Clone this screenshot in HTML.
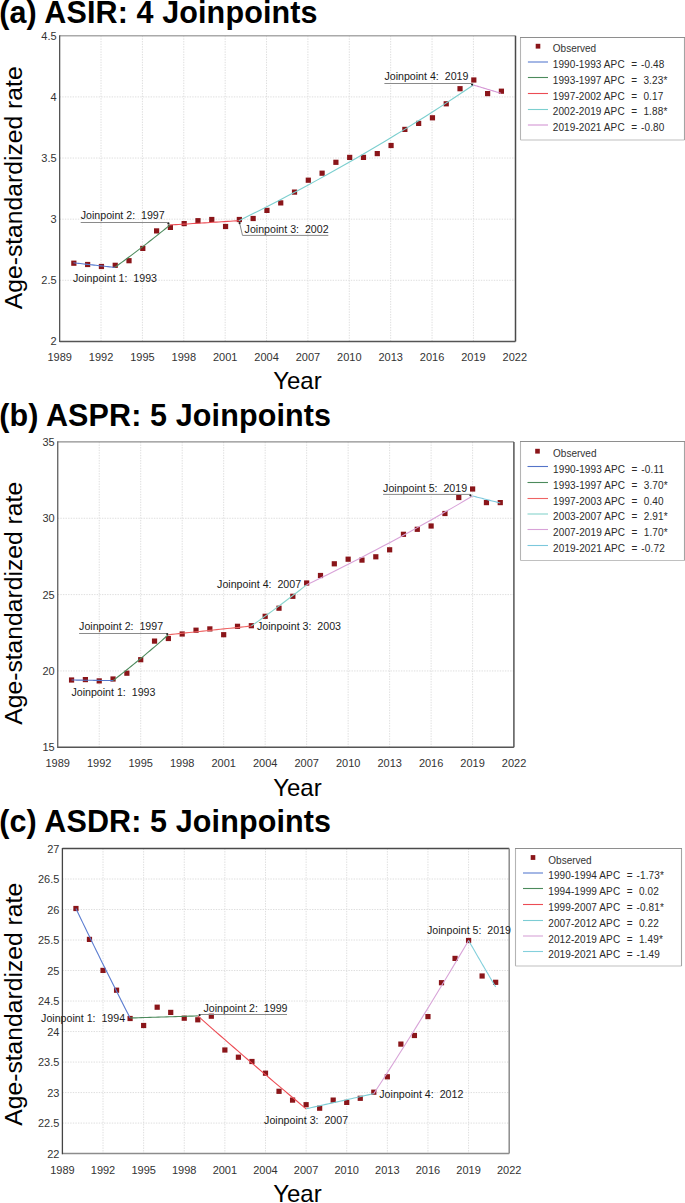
<!DOCTYPE html>
<html><head><meta charset="utf-8"><style>
html,body{margin:0;padding:0;background:#fff;width:685px;height:1203px;overflow:hidden}
svg{display:block}
text{font-family:"Liberation Sans", sans-serif}
</style></head><body>
<svg width="685" height="1203" viewBox="0 0 685 1203">
<rect width="685" height="1203" fill="#fff"/>

<text x="-0.8" y="22.9" font-size="30.5" font-weight="bold" fill="#000" letter-spacing="0.12">(a) ASIR: 4 Joinpoints</text>
<path d="M101.03 35.80V341.40 M142.40 35.80V341.40 M183.78 35.80V341.40 M225.16 35.80V341.40 M266.54 35.80V341.40 M307.91 35.80V341.40 M349.29 35.80V341.40 M390.67 35.80V341.40 M432.05 35.80V341.40 M473.42 35.80V341.40 M59.65 280.28H515.50 M59.65 219.16H515.50 M59.65 158.04H515.50 M59.65 96.92H515.50" stroke="#dedede" stroke-width="1" stroke-dasharray="1.4 1.2" fill="none"/>
<path d="M59.65 35.80H515.50" stroke="#aaaaaa" stroke-width="1.4" fill="none"/>
<path d="M515.50 35.80V341.40" stroke="#4a4a4a" stroke-width="1.5" fill="none"/>
<path d="M59.65 341.40H515.50" stroke="#555555" stroke-width="1.5" fill="none"/>
<path d="M59.65 35.20V342.10" stroke="#555555" stroke-width="1.3" fill="none"/>
<text x="56.65" y="345.40" font-size="11" fill="#333" text-anchor="end">2</text>
<text x="56.65" y="284.28" font-size="11" fill="#333" text-anchor="end">2.5</text>
<text x="56.65" y="223.16" font-size="11" fill="#333" text-anchor="end">3</text>
<text x="56.65" y="162.04" font-size="11" fill="#333" text-anchor="end">3.5</text>
<text x="56.65" y="100.92" font-size="11" fill="#333" text-anchor="end">4</text>
<text x="56.65" y="39.80" font-size="11" fill="#333" text-anchor="end">4.5</text>
<text x="59.65" y="361.40" font-size="11" fill="#333" text-anchor="middle">1989</text>
<text x="101.03" y="361.40" font-size="11" fill="#333" text-anchor="middle">1992</text>
<text x="142.40" y="361.40" font-size="11" fill="#333" text-anchor="middle">1995</text>
<text x="183.78" y="361.40" font-size="11" fill="#333" text-anchor="middle">1998</text>
<text x="225.16" y="361.40" font-size="11" fill="#333" text-anchor="middle">2001</text>
<text x="266.54" y="361.40" font-size="11" fill="#333" text-anchor="middle">2004</text>
<text x="307.91" y="361.40" font-size="11" fill="#333" text-anchor="middle">2007</text>
<text x="349.29" y="361.40" font-size="11" fill="#333" text-anchor="middle">2010</text>
<text x="390.67" y="361.40" font-size="11" fill="#333" text-anchor="middle">2013</text>
<text x="432.05" y="361.40" font-size="11" fill="#333" text-anchor="middle">2016</text>
<text x="473.42" y="361.40" font-size="11" fill="#333" text-anchor="middle">2019</text>
<text x="514.80" y="361.40" font-size="11" fill="#333" text-anchor="middle">2022</text>
<text x="297.4" y="389" font-size="24" fill="#000" text-anchor="middle">Year</text>
<text transform="translate(21.8 187.8) rotate(-90)" x="0" y="0" font-size="24.7" fill="#000" text-anchor="middle">Age-standardized rate</text>
<rect x="71.24" y="260.60" width="5.2" height="5.2" fill="#8a1519"/>
<rect x="85.03" y="261.90" width="5.2" height="5.2" fill="#8a1519"/>
<rect x="98.83" y="263.90" width="5.2" height="5.2" fill="#8a1519"/>
<rect x="112.62" y="262.70" width="5.2" height="5.2" fill="#8a1519"/>
<rect x="126.41" y="258.10" width="5.2" height="5.2" fill="#8a1519"/>
<rect x="140.20" y="245.80" width="5.2" height="5.2" fill="#8a1519"/>
<rect x="154.00" y="228.30" width="5.2" height="5.2" fill="#8a1519"/>
<rect x="167.79" y="224.80" width="5.2" height="5.2" fill="#8a1519"/>
<rect x="181.58" y="221.00" width="5.2" height="5.2" fill="#8a1519"/>
<rect x="195.37" y="218.10" width="5.2" height="5.2" fill="#8a1519"/>
<rect x="209.17" y="216.90" width="5.2" height="5.2" fill="#8a1519"/>
<rect x="222.96" y="223.90" width="5.2" height="5.2" fill="#8a1519"/>
<rect x="236.75" y="216.90" width="5.2" height="5.2" fill="#8a1519"/>
<rect x="250.54" y="215.90" width="5.2" height="5.2" fill="#8a1519"/>
<rect x="264.34" y="207.80" width="5.2" height="5.2" fill="#8a1519"/>
<rect x="278.13" y="200.30" width="5.2" height="5.2" fill="#8a1519"/>
<rect x="291.92" y="189.50" width="5.2" height="5.2" fill="#8a1519"/>
<rect x="305.71" y="177.60" width="5.2" height="5.2" fill="#8a1519"/>
<rect x="319.51" y="170.60" width="5.2" height="5.2" fill="#8a1519"/>
<rect x="333.30" y="159.70" width="5.2" height="5.2" fill="#8a1519"/>
<rect x="347.09" y="154.80" width="5.2" height="5.2" fill="#8a1519"/>
<rect x="360.88" y="154.80" width="5.2" height="5.2" fill="#8a1519"/>
<rect x="374.68" y="151.00" width="5.2" height="5.2" fill="#8a1519"/>
<rect x="388.47" y="142.90" width="5.2" height="5.2" fill="#8a1519"/>
<rect x="402.26" y="126.80" width="5.2" height="5.2" fill="#8a1519"/>
<rect x="416.05" y="120.80" width="5.2" height="5.2" fill="#8a1519"/>
<rect x="429.85" y="115.20" width="5.2" height="5.2" fill="#8a1519"/>
<rect x="443.64" y="101.20" width="5.2" height="5.2" fill="#8a1519"/>
<rect x="457.43" y="86.10" width="5.2" height="5.2" fill="#8a1519"/>
<rect x="471.22" y="77.40" width="5.2" height="5.2" fill="#8a1519"/>
<rect x="485.02" y="91.00" width="5.2" height="5.2" fill="#8a1519"/>
<rect x="498.81" y="88.60" width="5.2" height="5.2" fill="#8a1519"/>
<path d="M73.44 262.80 L75.17 262.99 L76.89 263.19 L78.61 263.38 L80.34 263.57 L82.06 263.76 L83.79 263.96 L85.51 264.15 L87.23 264.34 L88.96 264.53 L90.68 264.72 L92.41 264.92 L94.13 265.11 L95.86 265.30 L97.58 265.49 L99.30 265.68 L101.03 265.87 L102.75 266.07 L104.48 266.26 L106.20 266.45 L107.92 266.64 L109.65 266.83 L111.37 267.02 L113.10 267.21 L114.82 267.40" stroke="#5a7cd0" stroke-width="1.1" fill="none"/>
<path d="M114.82 267.40 L117.12 265.74 L119.42 264.07 L121.72 262.39 L124.01 260.70 L126.31 259.00 L128.61 257.29 L130.91 255.58 L133.21 253.85 L135.51 252.12 L137.81 250.37 L140.11 248.62 L142.40 246.86 L144.70 245.09 L147.00 243.31 L149.30 241.52 L151.60 239.73 L153.90 237.92 L156.20 236.10 L158.50 234.28 L160.79 232.44 L163.09 230.59 L165.39 228.74 L167.69 226.87 L169.99 225.00" stroke="#4c8a5c" stroke-width="1.1" fill="none"/>
<path d="M169.99 225.00 L172.86 224.82 L175.74 224.64 L178.61 224.47 L181.48 224.29 L184.36 224.11 L187.23 223.93 L190.10 223.75 L192.98 223.57 L195.85 223.39 L198.72 223.21 L201.60 223.04 L204.47 222.86 L207.34 222.68 L210.22 222.50 L213.09 222.32 L215.96 222.14 L218.84 221.96 L221.71 221.78 L224.58 221.60 L227.46 221.42 L230.33 221.24 L233.20 221.06 L236.08 220.88 L238.95 220.70" stroke="#ec4c54" stroke-width="1.1" fill="none"/>
<path d="M238.95 220.70 L248.72 215.86 L258.49 210.96 L268.26 205.99 L278.03 200.95 L287.80 195.85 L297.57 190.68 L307.34 185.45 L317.11 180.14 L326.88 174.76 L336.65 169.31 L346.42 163.79 L356.19 158.20 L365.96 152.53 L375.73 146.79 L385.50 140.97 L395.27 135.07 L405.04 129.10 L414.80 123.04 L424.57 116.91 L434.34 110.70 L444.11 104.40 L453.88 98.02 L463.65 91.55 L473.42 85.00" stroke="#7ccfcf" stroke-width="1.1" fill="none"/>
<path d="M473.42 85.00 L474.57 85.35 L475.72 85.70 L476.87 86.05 L478.02 86.39 L479.17 86.74 L480.32 87.09 L481.47 87.44 L482.62 87.78 L483.77 88.13 L484.92 88.48 L486.07 88.82 L487.22 89.17 L488.36 89.51 L489.51 89.86 L490.66 90.20 L491.81 90.55 L492.96 90.89 L494.11 91.24 L495.26 91.58 L496.41 91.93 L497.56 92.27 L498.71 92.61 L499.86 92.96 L501.01 93.30" stroke="#d496d4" stroke-width="1.1" fill="none"/>
<path d="M80.7 222.5H167.3L169.3 224.5" stroke="#8a8a8a" stroke-width="1" fill="none"/>
<path d="M239.6 223L242.5 235.4H328.3" stroke="#8a8a8a" stroke-width="1" fill="none"/>
<path d="M384.4 83.5H471L472.7 85" stroke="#8a8a8a" stroke-width="1" fill="none"/>
<circle cx="168.4" cy="223.4" r="1.1" fill="#222"/>
<circle cx="239.6" cy="223.1" r="1.1" fill="#222"/>
<circle cx="472.1" cy="84.5" r="1.1" fill="#222"/>
<text x="73" y="282" font-size="10.65" fill="#1a1a1a">Joinpoint 1:&#160; 1993</text>
<text x="80.7" y="219.3" font-size="10.65" fill="#1a1a1a">Joinpoint 2:&#160; 1997</text>
<text x="244.6" y="232.9" font-size="10.65" fill="#1a1a1a">Joinpoint 3:&#160; 2002</text>
<text x="384.4" y="80.3" font-size="10.65" fill="#1a1a1a">Joinpoint 4:&#160; 2019</text>
<path d="M520.5 37.5V140" stroke="#b4b4b4" stroke-width="1.1"/>
<path d="M520.5 140H684.5" stroke="#c0c0c0" stroke-width="1.1"/>
<path d="M684.5 37.5V140" stroke="#a4a4a4" stroke-width="1.1"/>
<path d="M520.0 37.5H685.0" stroke="#8e8e8e" stroke-width="1.1"/>
<rect x="535.70" y="43.80" width="4.6" height="4.8" fill="#8a1519"/>
<text x="552.8" y="52.20" font-size="10" fill="#333">Observed</text>
<path d="M527.9 62.00H548" stroke="#5a7cd0" stroke-width="1.1"/>
<text x="552.8" y="68.00" font-size="10" fill="#2a2a2a" letter-spacing="0.1">1990-1993 APC</text>
<text x="631.20" y="68.00" font-size="10" fill="#2a2a2a">=</text>
<text x="641.00" y="68.00" font-size="10" fill="#2a2a2a" letter-spacing="0.15">-0.48</text>
<path d="M527.9 77.50H548" stroke="#4c8a5c" stroke-width="1.1"/>
<text x="552.8" y="83.80" font-size="10" fill="#2a2a2a" letter-spacing="0.1">1993-1997 APC</text>
<text x="631.20" y="83.80" font-size="10" fill="#2a2a2a">=</text>
<text x="643.40" y="83.80" font-size="10" fill="#2a2a2a" letter-spacing="0.15">3.23*</text>
<path d="M527.9 93.50H548" stroke="#ec4c54" stroke-width="1.1"/>
<text x="552.8" y="99.60" font-size="10" fill="#2a2a2a" letter-spacing="0.1">1997-2002 APC</text>
<text x="631.20" y="99.60" font-size="10" fill="#2a2a2a">=</text>
<text x="643.40" y="99.60" font-size="10" fill="#2a2a2a" letter-spacing="0.15">0.17</text>
<path d="M527.9 109.50H548" stroke="#7ccfcf" stroke-width="1.1"/>
<text x="552.8" y="115.40" font-size="10" fill="#2a2a2a" letter-spacing="0.1">2002-2019 APC</text>
<text x="631.20" y="115.40" font-size="10" fill="#2a2a2a">=</text>
<text x="643.40" y="115.40" font-size="10" fill="#2a2a2a" letter-spacing="0.15">1.88*</text>
<path d="M527.9 125.00H548" stroke="#d496d4" stroke-width="1.1"/>
<text x="552.8" y="131.20" font-size="10" fill="#2a2a2a" letter-spacing="0.1">2019-2021 APC</text>
<text x="631.20" y="131.20" font-size="10" fill="#2a2a2a">=</text>
<text x="641.00" y="131.20" font-size="10" fill="#2a2a2a" letter-spacing="0.15">-0.80</text>
<text x="-0.8" y="425.8" font-size="30.5" font-weight="bold" fill="#000" letter-spacing="0.12">(b) ASPR: 5 Joinpoints</text>
<path d="M99.22 441.90V747.30 M140.71 441.90V747.30 M182.19 441.90V747.30 M223.68 441.90V747.30 M265.17 441.90V747.30 M306.66 441.90V747.30 M348.15 441.90V747.30 M389.64 441.90V747.30 M431.12 441.90V747.30 M472.61 441.90V747.30 M57.73 670.95H513.90 M57.73 594.60H513.90 M57.73 518.25H513.90" stroke="#dedede" stroke-width="1" stroke-dasharray="1.4 1.2" fill="none"/>
<path d="M57.73 441.90H513.90" stroke="#8e8e8e" stroke-width="1.4" fill="none"/>
<path d="M513.90 441.90V747.30" stroke="#555555" stroke-width="1.5" fill="none"/>
<path d="M57.73 747.30H513.90" stroke="#555555" stroke-width="1.5" fill="none"/>
<path d="M57.73 441.30V748.00" stroke="#606060" stroke-width="1.3" fill="none"/>
<text x="54.73" y="751.30" font-size="11" fill="#333" text-anchor="end">15</text>
<text x="54.73" y="674.95" font-size="11" fill="#333" text-anchor="end">20</text>
<text x="54.73" y="598.60" font-size="11" fill="#333" text-anchor="end">25</text>
<text x="54.73" y="522.25" font-size="11" fill="#333" text-anchor="end">30</text>
<text x="54.73" y="445.90" font-size="11" fill="#333" text-anchor="end">35</text>
<text x="57.73" y="767.30" font-size="11" fill="#333" text-anchor="middle">1989</text>
<text x="99.22" y="767.30" font-size="11" fill="#333" text-anchor="middle">1992</text>
<text x="140.71" y="767.30" font-size="11" fill="#333" text-anchor="middle">1995</text>
<text x="182.19" y="767.30" font-size="11" fill="#333" text-anchor="middle">1998</text>
<text x="223.68" y="767.30" font-size="11" fill="#333" text-anchor="middle">2001</text>
<text x="265.17" y="767.30" font-size="11" fill="#333" text-anchor="middle">2004</text>
<text x="306.66" y="767.30" font-size="11" fill="#333" text-anchor="middle">2007</text>
<text x="348.15" y="767.30" font-size="11" fill="#333" text-anchor="middle">2010</text>
<text x="389.64" y="767.30" font-size="11" fill="#333" text-anchor="middle">2013</text>
<text x="431.12" y="767.30" font-size="11" fill="#333" text-anchor="middle">2016</text>
<text x="472.61" y="767.30" font-size="11" fill="#333" text-anchor="middle">2019</text>
<text x="514.10" y="767.30" font-size="11" fill="#333" text-anchor="middle">2022</text>
<text x="297.4" y="795.8" font-size="24" fill="#000" text-anchor="middle">Year</text>
<text transform="translate(21.8 603.3) rotate(-90)" x="0" y="0" font-size="24.7" fill="#000" text-anchor="middle">Age-standardized rate</text>
<rect x="68.96" y="677.40" width="5.2" height="5.2" fill="#8a1519"/>
<rect x="82.79" y="677.00" width="5.2" height="5.2" fill="#8a1519"/>
<rect x="96.62" y="678.30" width="5.2" height="5.2" fill="#8a1519"/>
<rect x="110.45" y="676.40" width="5.2" height="5.2" fill="#8a1519"/>
<rect x="124.28" y="670.60" width="5.2" height="5.2" fill="#8a1519"/>
<rect x="138.11" y="657.10" width="5.2" height="5.2" fill="#8a1519"/>
<rect x="151.94" y="638.50" width="5.2" height="5.2" fill="#8a1519"/>
<rect x="165.77" y="635.90" width="5.2" height="5.2" fill="#8a1519"/>
<rect x="179.59" y="631.40" width="5.2" height="5.2" fill="#8a1519"/>
<rect x="193.42" y="627.60" width="5.2" height="5.2" fill="#8a1519"/>
<rect x="207.25" y="626.30" width="5.2" height="5.2" fill="#8a1519"/>
<rect x="221.08" y="632.10" width="5.2" height="5.2" fill="#8a1519"/>
<rect x="234.91" y="623.70" width="5.2" height="5.2" fill="#8a1519"/>
<rect x="248.74" y="623.10" width="5.2" height="5.2" fill="#8a1519"/>
<rect x="262.57" y="613.70" width="5.2" height="5.2" fill="#8a1519"/>
<rect x="276.40" y="605.60" width="5.2" height="5.2" fill="#8a1519"/>
<rect x="290.23" y="593.70" width="5.2" height="5.2" fill="#8a1519"/>
<rect x="304.06" y="580.40" width="5.2" height="5.2" fill="#8a1519"/>
<rect x="317.89" y="572.90" width="5.2" height="5.2" fill="#8a1519"/>
<rect x="331.72" y="561.20" width="5.2" height="5.2" fill="#8a1519"/>
<rect x="345.55" y="556.60" width="5.2" height="5.2" fill="#8a1519"/>
<rect x="359.38" y="557.50" width="5.2" height="5.2" fill="#8a1519"/>
<rect x="373.21" y="554.20" width="5.2" height="5.2" fill="#8a1519"/>
<rect x="387.04" y="547.20" width="5.2" height="5.2" fill="#8a1519"/>
<rect x="400.86" y="531.70" width="5.2" height="5.2" fill="#8a1519"/>
<rect x="414.69" y="526.70" width="5.2" height="5.2" fill="#8a1519"/>
<rect x="428.52" y="523.40" width="5.2" height="5.2" fill="#8a1519"/>
<rect x="442.35" y="510.90" width="5.2" height="5.2" fill="#8a1519"/>
<rect x="456.18" y="494.90" width="5.2" height="5.2" fill="#8a1519"/>
<rect x="470.01" y="486.40" width="5.2" height="5.2" fill="#8a1519"/>
<rect x="483.84" y="500.00" width="5.2" height="5.2" fill="#8a1519"/>
<rect x="497.67" y="500.00" width="5.2" height="5.2" fill="#8a1519"/>
<path d="M71.56 680.00 L73.29 680.03 L75.02 680.05 L76.75 680.08 L78.47 680.10 L80.20 680.13 L81.93 680.15 L83.66 680.18 L85.39 680.20 L87.12 680.23 L88.85 680.25 L90.57 680.28 L92.30 680.30 L94.03 680.33 L95.76 680.35 L97.49 680.38 L99.22 680.40 L100.95 680.43 L102.68 680.45 L104.40 680.48 L106.13 680.50 L107.86 680.53 L109.59 680.55 L111.32 680.58 L113.05 680.60" stroke="#5474c8" stroke-width="1.1" fill="none"/>
<path d="M113.05 680.60 L115.35 678.82 L117.66 677.02 L119.96 675.22 L122.27 673.40 L124.57 671.58 L126.88 669.74 L129.18 667.89 L131.49 666.03 L133.79 664.16 L136.10 662.28 L138.40 660.38 L140.71 658.48 L143.01 656.56 L145.32 654.63 L147.62 652.69 L149.93 650.74 L152.23 648.78 L154.54 646.80 L156.84 644.82 L159.15 642.82 L161.45 640.81 L163.76 638.78 L166.06 636.75 L168.37 634.70" stroke="#4c8a5c" stroke-width="1.1" fill="none"/>
<path d="M168.37 634.70 L171.82 634.34 L175.28 633.98 L178.74 633.62 L182.19 633.27 L185.65 632.91 L189.11 632.55 L192.57 632.19 L196.02 631.82 L199.48 631.46 L202.94 631.10 L206.40 630.74 L209.85 630.38 L213.31 630.01 L216.77 629.65 L220.23 629.29 L223.68 628.92 L227.14 628.56 L230.60 628.20 L234.05 627.83 L237.51 627.47 L240.97 627.10 L244.43 626.73 L247.88 626.37 L251.34 626.00" stroke="#ee6464" stroke-width="1.1" fill="none"/>
<path d="M251.34 626.00 L253.65 624.37 L255.95 622.74 L258.26 621.10 L260.56 619.45 L262.87 617.79 L265.17 616.13 L267.48 614.45 L269.78 612.77 L272.09 611.08 L274.39 609.39 L276.70 607.68 L279.00 605.97 L281.31 604.25 L283.61 602.52 L285.92 600.79 L288.22 599.05 L290.52 597.29 L292.83 595.53 L295.13 593.77 L297.44 591.99 L299.74 590.20 L302.05 588.41 L304.35 586.61 L306.66 584.80" stroke="#88d4cc" stroke-width="1.1" fill="none"/>
<path d="M306.66 584.80 L313.57 581.45 L320.49 578.07 L327.40 574.67 L334.32 571.23 L341.23 567.77 L348.15 564.27 L355.06 560.75 L361.98 557.19 L368.89 553.61 L375.81 549.99 L382.72 546.34 L389.64 542.67 L396.55 538.96 L403.46 535.22 L410.38 531.44 L417.29 527.64 L424.21 523.80 L431.12 519.93 L438.04 516.03 L444.95 512.09 L451.87 508.12 L458.78 504.11 L465.70 500.07 L472.61 496.00" stroke="#d8a2d8" stroke-width="1.1" fill="none"/>
<path d="M472.61 496.00 L473.76 496.29 L474.92 496.59 L476.07 496.88 L477.22 497.17 L478.37 497.47 L479.53 497.76 L480.68 498.05 L481.83 498.34 L482.98 498.64 L484.14 498.93 L485.29 499.22 L486.44 499.51 L487.59 499.80 L488.75 500.10 L489.90 500.39 L491.05 500.68 L492.20 500.97 L493.36 501.26 L494.51 501.55 L495.66 501.84 L496.81 502.13 L497.97 502.42 L499.12 502.71 L500.27 503.00" stroke="#7cc8dc" stroke-width="1.1" fill="none"/>
<path d="M79.1 633.5H166.5L168 634.7" stroke="#8a8a8a" stroke-width="1" fill="none"/>
<path d="M383.1 494.4H469.5L471.2 496" stroke="#8a8a8a" stroke-width="1" fill="none"/>
<circle cx="167.2" cy="634" r="1.1" fill="#222"/>
<circle cx="470.4" cy="495.3" r="1.1" fill="#222"/>
<text x="71.4" y="695.8" font-size="10.65" fill="#1a1a1a">Joinpoint 1:&#160; 1993</text>
<text x="79.1" y="629.9" font-size="10.65" fill="#1a1a1a">Joinpoint 2:&#160; 1997</text>
<text x="257" y="630.1" font-size="10.65" fill="#1a1a1a">Joinpoint 3:&#160; 2003</text>
<text x="217.1" y="588.1" font-size="10.65" fill="#1a1a1a">Joinpoint 4:&#160; 2007</text>
<text x="383.1" y="491.6" font-size="10.65" fill="#1a1a1a">Joinpoint 5:&#160; 2019</text>
<path d="M520.5 441.5V560.5" stroke="#b4b4b4" stroke-width="1.1"/>
<path d="M520.5 560.5H684.5" stroke="#c0c0c0" stroke-width="1.1"/>
<path d="M684.5 441.5V560.5" stroke="#a4a4a4" stroke-width="1.1"/>
<path d="M520.0 441.5H685.0" stroke="#8e8e8e" stroke-width="1.1"/>
<rect x="535.20" y="448.80" width="4.6" height="4.8" fill="#8a1519"/>
<text x="553.1" y="457.20" font-size="10" fill="#333">Observed</text>
<path d="M527.5 466.50H548" stroke="#5474c8" stroke-width="1.1"/>
<text x="553.1" y="473.00" font-size="10" fill="#2a2a2a" letter-spacing="0.1">1990-1993 APC</text>
<text x="631.50" y="473.00" font-size="10" fill="#2a2a2a">=</text>
<text x="641.30" y="473.00" font-size="10" fill="#2a2a2a" letter-spacing="0.15">-0.11</text>
<path d="M527.5 482.50H548" stroke="#4c8a5c" stroke-width="1.1"/>
<text x="553.1" y="488.80" font-size="10" fill="#2a2a2a" letter-spacing="0.1">1993-1997 APC</text>
<text x="631.50" y="488.80" font-size="10" fill="#2a2a2a">=</text>
<text x="643.70" y="488.80" font-size="10" fill="#2a2a2a" letter-spacing="0.15">3.70*</text>
<path d="M527.5 498.50H548" stroke="#ee6464" stroke-width="1.1"/>
<text x="553.1" y="504.60" font-size="10" fill="#2a2a2a" letter-spacing="0.1">1997-2003 APC</text>
<text x="631.50" y="504.60" font-size="10" fill="#2a2a2a">=</text>
<text x="643.70" y="504.60" font-size="10" fill="#2a2a2a" letter-spacing="0.15">0.40</text>
<path d="M527.5 514.00H548" stroke="#88d4cc" stroke-width="1.1"/>
<text x="553.1" y="520.40" font-size="10" fill="#2a2a2a" letter-spacing="0.1">2003-2007 APC</text>
<text x="631.50" y="520.40" font-size="10" fill="#2a2a2a">=</text>
<text x="643.70" y="520.40" font-size="10" fill="#2a2a2a" letter-spacing="0.15">2.91*</text>
<path d="M527.5 529.50H548" stroke="#d8a2d8" stroke-width="1.1"/>
<text x="553.1" y="536.20" font-size="10" fill="#2a2a2a" letter-spacing="0.1">2007-2019 APC</text>
<text x="631.50" y="536.20" font-size="10" fill="#2a2a2a">=</text>
<text x="643.70" y="536.20" font-size="10" fill="#2a2a2a" letter-spacing="0.15">1.70*</text>
<path d="M527.5 545.50H548" stroke="#7cc8dc" stroke-width="1.1"/>
<text x="553.1" y="552.00" font-size="10" fill="#2a2a2a" letter-spacing="0.1">2019-2021 APC</text>
<text x="631.50" y="552.00" font-size="10" fill="#2a2a2a">=</text>
<text x="641.30" y="552.00" font-size="10" fill="#2a2a2a" letter-spacing="0.15">-0.72</text>
<text x="-0.8" y="831.5" font-size="30.5" font-weight="bold" fill="#000" letter-spacing="0.12">(c) ASDR: 5 Joinpoints</text>
<path d="M103.02 848.50V1153.60 M143.64 848.50V1153.60 M184.25 848.50V1153.60 M224.87 848.50V1153.60 M265.49 848.50V1153.60 M306.11 848.50V1153.60 M346.73 848.50V1153.60 M387.35 848.50V1153.60 M427.96 848.50V1153.60 M468.58 848.50V1153.60 M62.40 1123.09H509.20 M62.40 1092.58H509.20 M62.40 1062.07H509.20 M62.40 1031.56H509.20 M62.40 1001.05H509.20 M62.40 970.54H509.20 M62.40 940.03H509.20 M62.40 909.52H509.20 M62.40 879.01H509.20" stroke="#dedede" stroke-width="1" stroke-dasharray="1.4 1.2" fill="none"/>
<path d="M62.40 848.50H509.20" stroke="#4a4a4a" stroke-width="1.4" fill="none"/>
<path d="M509.20 848.50V1153.60" stroke="#8c8c8c" stroke-width="1.5" fill="none"/>
<path d="M62.40 1153.60H509.20" stroke="#8c8c8c" stroke-width="1.5" fill="none"/>
<path d="M62.40 847.90V1154.30" stroke="#444444" stroke-width="1.3" fill="none"/>
<text x="59.40" y="1157.60" font-size="11" fill="#333" text-anchor="end">22</text>
<text x="59.40" y="1127.09" font-size="11" fill="#333" text-anchor="end">22.5</text>
<text x="59.40" y="1096.58" font-size="11" fill="#333" text-anchor="end">23</text>
<text x="59.40" y="1066.07" font-size="11" fill="#333" text-anchor="end">23.5</text>
<text x="59.40" y="1035.56" font-size="11" fill="#333" text-anchor="end">24</text>
<text x="59.40" y="1005.05" font-size="11" fill="#333" text-anchor="end">24.5</text>
<text x="59.40" y="974.54" font-size="11" fill="#333" text-anchor="end">25</text>
<text x="59.40" y="944.03" font-size="11" fill="#333" text-anchor="end">25.5</text>
<text x="59.40" y="913.52" font-size="11" fill="#333" text-anchor="end">26</text>
<text x="59.40" y="883.01" font-size="11" fill="#333" text-anchor="end">26.5</text>
<text x="59.40" y="852.50" font-size="11" fill="#333" text-anchor="end">27</text>
<text x="62.40" y="1173.60" font-size="11" fill="#333" text-anchor="middle">1989</text>
<text x="103.02" y="1173.60" font-size="11" fill="#333" text-anchor="middle">1992</text>
<text x="143.64" y="1173.60" font-size="11" fill="#333" text-anchor="middle">1995</text>
<text x="184.25" y="1173.60" font-size="11" fill="#333" text-anchor="middle">1998</text>
<text x="224.87" y="1173.60" font-size="11" fill="#333" text-anchor="middle">2001</text>
<text x="265.49" y="1173.60" font-size="11" fill="#333" text-anchor="middle">2004</text>
<text x="306.11" y="1173.60" font-size="11" fill="#333" text-anchor="middle">2007</text>
<text x="346.73" y="1173.60" font-size="11" fill="#333" text-anchor="middle">2010</text>
<text x="387.35" y="1173.60" font-size="11" fill="#333" text-anchor="middle">2013</text>
<text x="427.96" y="1173.60" font-size="11" fill="#333" text-anchor="middle">2016</text>
<text x="468.58" y="1173.60" font-size="11" fill="#333" text-anchor="middle">2019</text>
<text x="509.20" y="1173.60" font-size="11" fill="#333" text-anchor="middle">2022</text>
<text x="297.4" y="1201.7" font-size="24" fill="#000" text-anchor="middle">Year</text>
<text transform="translate(21.8 1004.3) rotate(-90)" x="0" y="0" font-size="24.7" fill="#000" text-anchor="middle">Age-standardized rate</text>
<rect x="73.34" y="905.90" width="5.2" height="5.2" fill="#8a1519"/>
<rect x="86.88" y="936.80" width="5.2" height="5.2" fill="#8a1519"/>
<rect x="100.42" y="967.80" width="5.2" height="5.2" fill="#8a1519"/>
<rect x="113.96" y="987.60" width="5.2" height="5.2" fill="#8a1519"/>
<rect x="127.50" y="1015.90" width="5.2" height="5.2" fill="#8a1519"/>
<rect x="141.04" y="1022.90" width="5.2" height="5.2" fill="#8a1519"/>
<rect x="154.58" y="1004.60" width="5.2" height="5.2" fill="#8a1519"/>
<rect x="168.12" y="1009.80" width="5.2" height="5.2" fill="#8a1519"/>
<rect x="181.65" y="1015.60" width="5.2" height="5.2" fill="#8a1519"/>
<rect x="195.19" y="1017.20" width="5.2" height="5.2" fill="#8a1519"/>
<rect x="208.73" y="1013.60" width="5.2" height="5.2" fill="#8a1519"/>
<rect x="222.27" y="1047.40" width="5.2" height="5.2" fill="#8a1519"/>
<rect x="235.81" y="1054.60" width="5.2" height="5.2" fill="#8a1519"/>
<rect x="249.35" y="1058.90" width="5.2" height="5.2" fill="#8a1519"/>
<rect x="262.89" y="1070.60" width="5.2" height="5.2" fill="#8a1519"/>
<rect x="276.43" y="1088.70" width="5.2" height="5.2" fill="#8a1519"/>
<rect x="289.97" y="1097.50" width="5.2" height="5.2" fill="#8a1519"/>
<rect x="303.51" y="1102.10" width="5.2" height="5.2" fill="#8a1519"/>
<rect x="317.05" y="1105.60" width="5.2" height="5.2" fill="#8a1519"/>
<rect x="330.59" y="1097.50" width="5.2" height="5.2" fill="#8a1519"/>
<rect x="344.13" y="1099.80" width="5.2" height="5.2" fill="#8a1519"/>
<rect x="357.67" y="1095.70" width="5.2" height="5.2" fill="#8a1519"/>
<rect x="371.21" y="1089.60" width="5.2" height="5.2" fill="#8a1519"/>
<rect x="384.75" y="1074.20" width="5.2" height="5.2" fill="#8a1519"/>
<rect x="398.28" y="1041.50" width="5.2" height="5.2" fill="#8a1519"/>
<rect x="411.82" y="1032.90" width="5.2" height="5.2" fill="#8a1519"/>
<rect x="425.36" y="1014.00" width="5.2" height="5.2" fill="#8a1519"/>
<rect x="438.90" y="980.10" width="5.2" height="5.2" fill="#8a1519"/>
<rect x="452.44" y="955.80" width="5.2" height="5.2" fill="#8a1519"/>
<rect x="465.98" y="937.90" width="5.2" height="5.2" fill="#8a1519"/>
<rect x="479.52" y="973.40" width="5.2" height="5.2" fill="#8a1519"/>
<rect x="493.06" y="979.70" width="5.2" height="5.2" fill="#8a1519"/>
<path d="M75.94 908.50 L78.20 913.22 L80.45 917.93 L82.71 922.62 L84.97 927.30 L87.22 931.96 L89.48 936.61 L91.74 941.25 L93.99 945.87 L96.25 950.48 L98.51 955.08 L100.76 959.66 L103.02 964.23 L105.27 968.78 L107.53 973.32 L109.79 977.85 L112.04 982.37 L114.30 986.87 L116.56 991.35 L118.81 995.83 L121.07 1000.29 L123.33 1004.74 L125.58 1009.17 L127.84 1013.59 L130.10 1018.00" stroke="#5a7cd0" stroke-width="1.1" fill="none"/>
<path d="M130.10 1018.00 L132.92 1017.91 L135.74 1017.83 L138.56 1017.74 L141.38 1017.65 L144.20 1017.56 L147.02 1017.48 L149.84 1017.39 L152.66 1017.30 L155.48 1017.21 L158.30 1017.13 L161.12 1017.04 L163.95 1016.95 L166.77 1016.86 L169.59 1016.78 L172.41 1016.69 L175.23 1016.60 L178.05 1016.51 L180.87 1016.43 L183.69 1016.34 L186.51 1016.25 L189.33 1016.16 L192.15 1016.08 L194.97 1015.99 L197.79 1015.90" stroke="#4c8a5c" stroke-width="1.1" fill="none"/>
<path d="M197.79 1015.90 L202.31 1019.89 L206.82 1023.87 L211.33 1027.84 L215.85 1031.80 L220.36 1035.75 L224.87 1039.69 L229.39 1043.62 L233.90 1047.54 L238.41 1051.45 L242.93 1055.34 L247.44 1059.23 L251.95 1063.10 L256.46 1066.97 L260.98 1070.82 L265.49 1074.67 L270.00 1078.50 L274.52 1082.32 L279.03 1086.14 L283.54 1089.94 L288.06 1093.73 L292.57 1097.51 L297.08 1101.29 L301.60 1105.05 L306.11 1108.80" stroke="#ec4c54" stroke-width="1.1" fill="none"/>
<path d="M306.11 1108.80 L308.93 1108.17 L311.75 1107.54 L314.57 1106.91 L317.39 1106.28 L320.21 1105.65 L323.03 1105.02 L325.85 1104.38 L328.67 1103.75 L331.50 1103.12 L334.32 1102.49 L337.14 1101.85 L339.96 1101.22 L342.78 1100.59 L345.60 1099.95 L348.42 1099.32 L351.24 1098.69 L354.06 1098.05 L356.88 1097.42 L359.70 1096.78 L362.52 1096.14 L365.34 1095.51 L368.16 1094.87 L370.99 1094.24 L373.81 1093.60" stroke="#7cccd4" stroke-width="1.1" fill="none"/>
<path d="M373.81 1093.60 L377.76 1087.53 L381.70 1081.44 L385.65 1075.32 L389.60 1069.17 L393.55 1063.00 L397.50 1056.80 L401.45 1050.57 L405.40 1044.32 L409.35 1038.04 L413.30 1031.73 L417.24 1025.39 L421.19 1019.03 L425.14 1012.64 L429.09 1006.22 L433.04 999.78 L436.99 993.31 L440.94 986.80 L444.89 980.27 L448.84 973.72 L452.79 967.13 L456.73 960.52 L460.68 953.87 L464.63 947.20 L468.58 940.50" stroke="#d8a4d8" stroke-width="1.1" fill="none"/>
<path d="M468.58 940.50 L469.71 942.47 L470.84 944.43 L471.97 946.39 L473.09 948.35 L474.22 950.30 L475.35 952.26 L476.48 954.21 L477.61 956.16 L478.74 958.10 L479.86 960.05 L480.99 961.99 L482.12 963.93 L483.25 965.86 L484.38 967.80 L485.51 969.73 L486.63 971.66 L487.76 973.58 L488.89 975.51 L490.02 977.43 L491.15 979.35 L492.28 981.26 L493.40 983.18 L494.53 985.09 L495.66 987.00" stroke="#84d0dc" stroke-width="1.1" fill="none"/>
<path d="M198.8 1015.9L200.5 1014.5H287" stroke="#8a8a8a" stroke-width="1" fill="none"/>
<circle cx="199.6" cy="1015.1" r="1.1" fill="#222"/>
<text x="41.1" y="1021.5" font-size="10.65" fill="#1a1a1a">Joinpoint 1:&#160; 1994</text>
<text x="203.5" y="1011.7" font-size="10.65" fill="#1a1a1a">Joinpoint 2:&#160; 1999</text>
<text x="264.1" y="1124" font-size="10.65" fill="#1a1a1a">Joinpoint 3:&#160; 2007</text>
<text x="379.3" y="1097.9" font-size="10.65" fill="#1a1a1a">Joinpoint 4:&#160; 2012</text>
<text x="427" y="933.9" font-size="10.65" fill="#1a1a1a">Joinpoint 5:&#160; 2019</text>
<path d="M515.5 848.5V966" stroke="#b4b4b4" stroke-width="1.1"/>
<path d="M515.5 966H681.5" stroke="#c0c0c0" stroke-width="1.1"/>
<path d="M681.5 848.5V966" stroke="#a4a4a4" stroke-width="1.1"/>
<path d="M515.0 848.5H682.0" stroke="#8e8e8e" stroke-width="1.1"/>
<rect x="530.70" y="855.10" width="4.6" height="4.8" fill="#8a1519"/>
<text x="548.3" y="863.50" font-size="10" fill="#333">Observed</text>
<path d="M523 873.00H543" stroke="#5a7cd0" stroke-width="1.1"/>
<text x="548.3" y="879.30" font-size="10" fill="#2a2a2a" letter-spacing="0.1">1990-1994 APC</text>
<text x="626.70" y="879.30" font-size="10" fill="#2a2a2a">=</text>
<text x="636.50" y="879.30" font-size="10" fill="#2a2a2a" letter-spacing="0.15">-1.73*</text>
<path d="M523 888.50H543" stroke="#4c8a5c" stroke-width="1.1"/>
<text x="548.3" y="895.10" font-size="10" fill="#2a2a2a" letter-spacing="0.1">1994-1999 APC</text>
<text x="626.70" y="895.10" font-size="10" fill="#2a2a2a">=</text>
<text x="638.90" y="895.10" font-size="10" fill="#2a2a2a" letter-spacing="0.15">0.02</text>
<path d="M523 904.50H543" stroke="#ec4c54" stroke-width="1.1"/>
<text x="548.3" y="910.90" font-size="10" fill="#2a2a2a" letter-spacing="0.1">1999-2007 APC</text>
<text x="626.70" y="910.90" font-size="10" fill="#2a2a2a">=</text>
<text x="636.50" y="910.90" font-size="10" fill="#2a2a2a" letter-spacing="0.15">-0.81*</text>
<path d="M523 920.50H543" stroke="#7cccd4" stroke-width="1.1"/>
<text x="548.3" y="926.70" font-size="10" fill="#2a2a2a" letter-spacing="0.1">2007-2012 APC</text>
<text x="626.70" y="926.70" font-size="10" fill="#2a2a2a">=</text>
<text x="638.90" y="926.70" font-size="10" fill="#2a2a2a" letter-spacing="0.15">0.22</text>
<path d="M523 936.00H543" stroke="#d8a4d8" stroke-width="1.1"/>
<text x="548.3" y="942.50" font-size="10" fill="#2a2a2a" letter-spacing="0.1">2012-2019 APC</text>
<text x="626.70" y="942.50" font-size="10" fill="#2a2a2a">=</text>
<text x="638.90" y="942.50" font-size="10" fill="#2a2a2a" letter-spacing="0.15">1.49*</text>
<path d="M523 951.50H543" stroke="#84d0dc" stroke-width="1.1"/>
<text x="548.3" y="958.30" font-size="10" fill="#2a2a2a" letter-spacing="0.1">2019-2021 APC</text>
<text x="626.70" y="958.30" font-size="10" fill="#2a2a2a">=</text>
<text x="636.50" y="958.30" font-size="10" fill="#2a2a2a" letter-spacing="0.15">-1.49</text>
</svg></body></html>
